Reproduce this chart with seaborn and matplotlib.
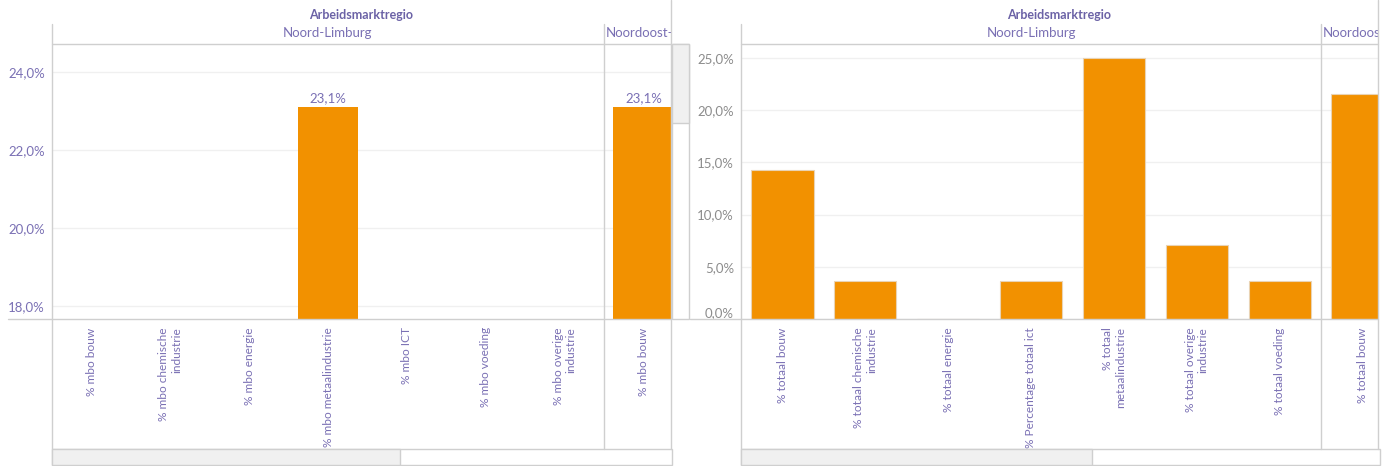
"""Tableau-style bar panels: mbo vs totaal per sector, per arbeidsmarktregio."""

import matplotlib.pyplot as plt
import matplotlib.patches as mpatches
import numpy as np
import pandas as pd
import seaborn as sns
from matplotlib.lines import Line2D
from matplotlib.ticker import FixedLocator, FuncFormatter

# Data
regions = ["Noord-Limburg", "Noordoost-Brabant"]

mbo_measures = [
    "% mbo bouw",
    "% mbo chemische\nindustrie",
    "% mbo energie",
    "% mbo metaalindustrie",
    "% mbo ICT",
    "% mbo voeding",
    "% mbo overige\nindustrie",
]
mbo_noord_limburg = [np.nan, np.nan, np.nan, 23.1, np.nan, np.nan, np.nan]
mbo_noordoost_measures = ["% mbo bouw"]
mbo_noordoost = [23.1]

totaal_measures = [
    "% totaal bouw",
    "% totaal chemische\nindustrie",
    "% totaal energie",
    "% Percentage totaal ict",
    "% totaal\nmetaalindustrie",
    "% totaal overige\nindustrie",
    "% totaal voeding",
]
totaal_noord_limburg = [14.3, 3.6, 0.0, 3.6, 25.0, 7.1, 3.6]
totaal_noordoost_measures = ["% totaal bouw"]
totaal_noordoost = [21.6]

left_yticks = [18, 20, 22, 24]
right_yticks = [0, 5, 10, 15, 20, 25]

# Style
W, H = 1390, 466
BAR = "#F29100"
PURPLE = "#7a70b4"
PURPLE_DARK = "#6b62a6"
GRAY_TXT = "#8c8c8c"
LINE = "#cfcfcf"
GRID = "#f0f0f0"
FONT = ["Lato", "DejaVu Sans"]


def fx(px):
    return px / W


def fy(py):
    return 1 - py / H


def add_axes_px(fig, x0, y0, x1, y1):
    return fig.add_axes([fx(x0), fy(y1), fx(x1 - x0), (y1 - y0) / H])


def fig_line(fig, x0, y0, x1, y1, color=LINE, lw=1.0):
    fig.add_artist(
        Line2D([fx(x0), fx(x1)], [fy(y0), fy(y1)], transform=fig.transFigure,
               color=color, lw=lw)
    )


def fig_rect(fig, x0, y0, x1, y1, face="white", edge=LINE):
    fig.add_artist(
        mpatches.Rectangle((fx(x0), fy(y1)), fx(x1 - x0), (y1 - y0) / H,
                           transform=fig.transFigure, facecolor=face,
                           edgecolor=edge, lw=1.0)
    )


def pct(v, pos=None):
    return f"{v:.1f}".replace(".", ",") + "%"


def build_frame(main_measures, main_vals, extra_measures, extra_vals):
    rows = []
    for m, v in zip(main_measures, main_vals):
        rows.append((regions[0], m, v))
    for m, v in zip(extra_measures, extra_vals):
        rows.append((regions[1], m, v))
    df = pd.DataFrame(rows, columns=["region", "measure", "value"])
    df["slot"] = df["region"] + "|" + df["measure"]
    return df


def draw_panel(fig, df, box, split_px, ylim, yticks, tick_color, bar_width,
               show_labels, edge):
    x0, y0, x1, y1 = box
    n_main = (df["region"] == regions[0]).sum()
    unit = (split_px - x0) / n_main
    xmax = n_main - 0.5 + (x1 - split_px) / unit

    ax = add_axes_px(fig, x0, y0, x1, y1)
    order = list(df["slot"])
    plot_df = df.dropna(subset=["value"])
    sns.barplot(data=plot_df, x="slot", y="value", order=order, color=BAR,
                saturation=1, width=bar_width, errorbar=None, ax=ax,
                edgecolor=edge, linewidth=0.8)
    ax.set_xlim(-0.5, xmax)
    ax.set_ylim(ylim)
    ax.set_xlabel("")
    ax.set_ylabel("")
    for s in ax.spines.values():
        s.set_visible(False)

    ax.yaxis.set_major_locator(FixedLocator(yticks))
    ax.yaxis.set_major_formatter(FuncFormatter(pct))
    ax.grid(True, axis="y", color=GRID, lw=1.0)
    ax.set_axisbelow(True)
    ax.tick_params(axis="y", length=0, pad=5, labelsize=9.5,
                   labelcolor=tick_color)
    for lab in ax.get_yticklabels():
        lab.set_family(FONT)

    ax.set_xticks(range(len(order)))
    ax.set_xticklabels(list(df["measure"]), rotation=90, fontsize=8.6,
                       color=PURPLE, family=FONT, multialignment="right")
    ax.tick_params(axis="x", length=0, pad=6)
    ax.set_xticks(np.arange(len(order)) - 0.5, minor=True)
    ax.tick_params(axis="x", which="minor", length=4, color="#e6e6e6",
                   width=1)

    if show_labels:
        for cont in ax.containers:
            ax.bar_label(cont, labels=[pct(b.get_height()) for b in cont],
                         padding=2, color=PURPLE, fontsize=9.5, family=FONT)

    # header row with region names
    hx = add_axes_px(fig, x0, 22, x1, y0)
    hx.set_xlim(-0.5, xmax)
    hx.set_ylim(0, 1)
    hx.axis("off")
    hx.text((n_main - 1) / 2, 0.5, regions[0], ha="center", va="center",
            color=PURPLE, fontsize=9.5, family=FONT)
    hx.text(n_main - 0.5 + 2 / unit, 0.5, regions[1], ha="left", va="center",
            color=PURPLE, fontsize=9.5, family=FONT, clip_on=True)
    fig.text(fx((x0 + x1) / 2), fy(15), "Arbeidsmarktregio", ha="center",
             va="center", color=PURPLE_DARK, fontsize=9, weight="bold",
             family=FONT)

    # frame lines
    fig_line(fig, x0, 24, x0, 449)
    fig_line(fig, split_px, 24, split_px, 449)
    fig_line(fig, x1, 0, x1, 449)
    fig_line(fig, x0, y0, x1, y0)
    return ax


sns.set_theme(style="white")
plt.rcParams["font.family"] = FONT

fig = plt.figure(figsize=(W / 100, H / 100), dpi=100)

left_df = build_frame(mbo_measures, mbo_noord_limburg,
                      mbo_noordoost_measures, mbo_noordoost)
right_df = build_frame(totaal_measures, totaal_noord_limburg,
                       totaal_noordoost_measures, totaal_noordoost)

ax_l = draw_panel(fig, left_df, (52, 44, 671, 319), 604, (17.67, 24.72),
                  left_yticks, PURPLE, 0.76, True, "none")
ax_r = draw_panel(fig, right_df, (741, 44, 1378, 319), 1321, (0, 26.35),
                  right_yticks, GRAY_TXT, 0.75, False, "#e9d3b4")

# baselines
fig_line(fig, 8, 319, 671, 319)
fig_line(fig, 690, 319, 1378, 319)

# 0,0% label sits above the baseline
ax_r.yaxis.get_major_ticks()[0].label1.set_verticalalignment("bottom")

# scrollbars
fig_rect(fig, 672, 44, 689, 319)
fig_rect(fig, 672, 44, 689, 123, face="#f0f0f0")
fig_rect(fig, 52, 449, 672, 465)
fig_rect(fig, 52, 449, 400, 465, face="#f0f0f0")
fig_rect(fig, 741, 449, 1380, 465)
fig_rect(fig, 741, 449, 1092, 465, face="#f0f0f0")

plt.savefig("out.png", dpi=100)
plt.close(fig)
